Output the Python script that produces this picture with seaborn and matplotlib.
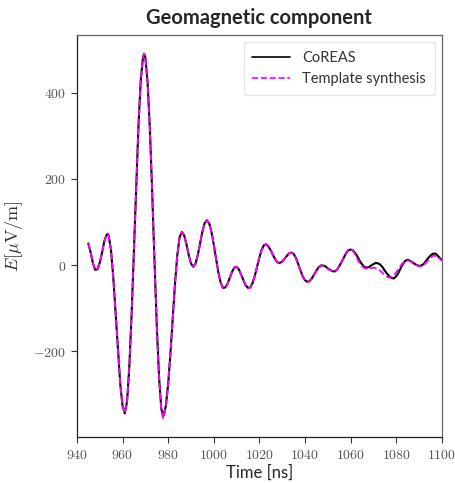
import matplotlib
matplotlib.use("Agg")
import matplotlib.pyplot as plt
import seaborn as sns
import pandas as pd
from matplotlib.ticker import FuncFormatter, FixedLocator

# ---- data ----
time_ns = sorted(list(range(945, 1101)) + [953.5, 969.5, 977.8])

coreas = [
    50, 30, 5, -11, -10, 5, 28, 55, 70, 72,          # 945..953.5
    67, 32, -32, -114, -200, -275, -326, -344,       # 954..961
    -316, -235, -113, 35, 187, 324, 428, 483, 490,   # 962..969.5
    482, 424, 315, 171, 13, -137, -258, -333, -350,  # 970..977.8
    -349, -327, -277, -206, -124, -44, 22, 64, 77,   # 978..986
    69, 49, 24, 4, -4, 3, 23, 50, 77, 97, 104,       # 987..997
    97, 77, 48, 15, -16, -40, -53, -52, -44, -30,    # 998..1007
    -16, -6, -4, -10, -22, -35, -47, -53, -52, -42,  # 1008..1017
    -25, -4, 17, 35, 46, 48, 43, 34, 23, 13,         # 1018..1027
    6, 5, 8, 14, 21, 27, 29, 26, 17, 3,              # 1028..1037
    -12, -26, -35, -39, -37, -31, -22, -13, -5, -1,  # 1038..1047
    -1, -3, -8, -11, -14, -15, -11, -3, 7, 17,       # 1048..1057
    27, 34, 36, 34, 28, 20, 10, 2, -4, -6,           # 1058..1067
    -5, -1, 2, 5, 4, 1, -5, -13, -20, -26,           # 1068..1077
    -30, -31, -26, -18, -7, 3, 10, 12, 10, 7,        # 1078..1087
    3, 0, -2, -1, 2, 9, 16, 22, 26, 27,              # 1088..1097
    23, 17, 12,                                      # 1098..1100
]

template = [
    50, 30, 5, -11, -10, 5, 28, 55, 70, 72,
    67, 32, -32, -114, -200, -275, -326, -344,
    -316, -235, -113, 35, 187, 324, 428, 483, 490,
    482, 424, 315, 171, 13, -137, -258, -336, -355,
    -354, -330, -279, -207, -124, -44, 22, 64, 77,
    69, 49, 24, 4, -4, 3, 23, 50, 77, 97, 104,
    97, 77, 48, 15, -16, -40, -53, -53, -45, -30,
    -16, -6, -4, -10, -22, -35, -47, -54, -53, -42,
    -25, -4, 17, 35, 46, 49, 44, 34, 22, 12,
    6, 5, 8, 14, 21, 27, 29, 26, 16, 2,
    -13, -27, -36, -40, -38, -32, -23, -14, -6, -2,
    -2, -4, -9, -12, -14, -15, -11, -3, 7, 18,
    28, 36, 37, 33, 25, 14, 4, -3, -7, -8,
    -8, -7, -6, -7, -9, -13, -18, -23, -27, -29,
    -28, -24, -17, -9, -1, 5, 9, 10, 9, 6,
    2, -1, -3, -3, 0, 5, 11, 17, 21, 22,
    20, 15, 10,
]

x_ticks = [940, 960, 980, 1000, 1020, 1040, 1060, 1080, 1100]
y_ticks = [-200, 0, 200, 400]

df = pd.DataFrame({"t": time_ns, "coreas": coreas, "template": template})

# ---- plot ----
sns.set_style("ticks")
plt.rcParams["font.family"] = ["Lato", "DejaVu Sans"]
plt.rcParams["mathtext.fontset"] = "cm"

fig = plt.figure(figsize=(4.55, 4.83), dpi=100)
ax = fig.add_axes([0.169, 0.095, 0.802, 0.833])

sns.lineplot(data=df, x="t", y="coreas", color="black", lw=1.5,
             label="CoREAS", ax=ax, sort=False)
sns.lineplot(data=df, x="t", y="template", color="magenta", lw=1.3,
             label="Template synthesis", ax=ax, sort=False)
ax.lines[1].set_linestyle("--")

ax.set_xlim(940, 1100)
ax.set_ylim(-399, 534)
ax.xaxis.set_major_locator(FixedLocator(x_ticks))
ax.yaxis.set_major_locator(FixedLocator(y_ticks))
fmt = FuncFormatter(lambda v, p: r"$%d$" % v)
ax.xaxis.set_major_formatter(fmt)
ax.yaxis.set_major_formatter(fmt)
ax.tick_params(axis="both", labelsize=10, length=4, width=0.8,
               colors="#333333", labelcolor="#555555")

for s in ax.spines.values():
    s.set_linewidth(0.9)
    s.set_color("#666666")
ax.spines["left"].set_color("#222222")
ax.spines["bottom"].set_color("#222222")

ax.set_title("Geomagnetic component", fontsize=14.5, fontweight="bold", pad=8)
ax.set_xlabel("Time [ns]", fontsize=12, labelpad=3)
ax.set_ylabel(r"$E[\mu\mathrm{V}/\mathrm{m}]$", fontsize=13, labelpad=6,
              color="#333333")

leg = ax.legend(loc="upper right", fontsize=10.5, frameon=True,
                handlelength=2.6, borderpad=0.6, labelspacing=0.5,
                borderaxespad=0.5)
leg.get_frame().set_edgecolor("#e0e0e0")
for line in leg.get_lines():
    line.set_linewidth(1.2)
for txt in leg.get_texts():
    txt.set_color("#333333")

fig.savefig("out.png", dpi=100)
